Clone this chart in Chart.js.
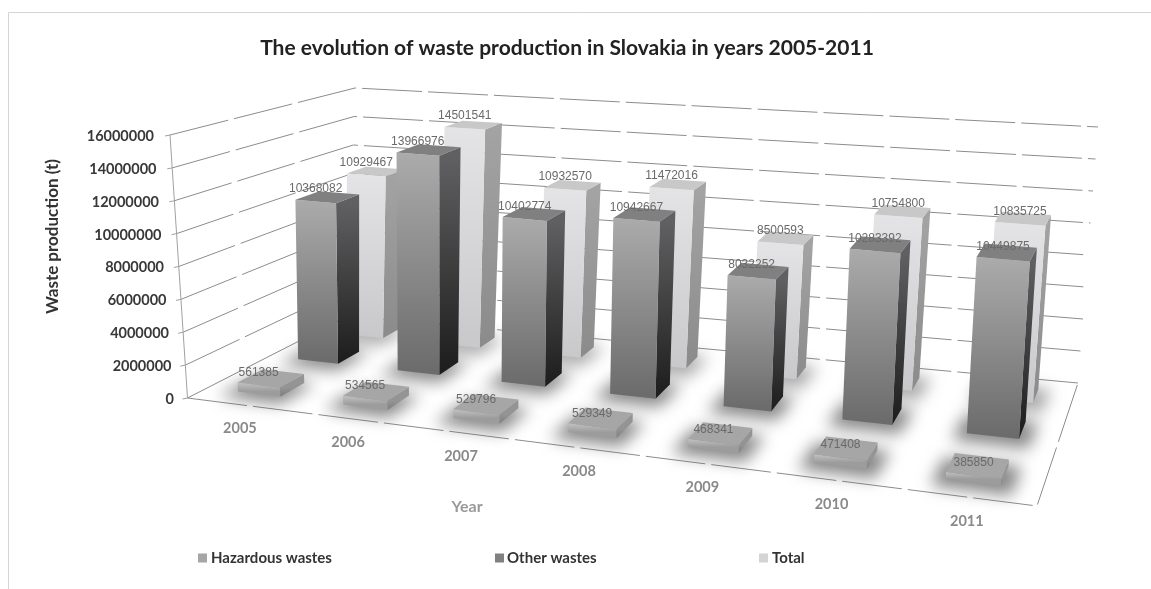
<!DOCTYPE html>
<html><head><meta charset="utf-8">
<style>html,body{margin:0;padding:0;background:#fff}canvas{display:block;filter:blur(0.55px)}</style>
<script src="https://cdn.jsdelivr.net/npm/chart.js@4"></script>
</head><body><canvas id="c" width="1151" height="589"></canvas>
<script>
const years=['2005','2006','2007','2008','2009','2010','2011'];
const hazardous=[561385,534565,529796,529349,468341,471408,385850];
const other=[10368082,13966976,10402774,10942667,8032252,10283392,10449875];
const total=[10929467,14501541,10932570,11472016,8500593,10754800,10835725];
const yTicks=[0,2000000,4000000,6000000,8000000,10000000,12000000,14000000,16000000];

const FONT='Lato';
// 3D box of the plot, as seen in the picture: floor and top planes
const box={fl0:[187.5,398],fr0:[1037,506],bl0:[348,316],br0:[1078,383],
           fl1:[170,135],fr1:[1052,215],bl1:[355,88],br1:[1098,127],k:1.17};
const lerp=(a,b,t)=>[a[0]+(b[0]-a[0])*t,a[1]+(b[1]-a[1])*t];
function P(u,d,h){
  const t=u/(u+box.k*(1-u));
  const b=lerp(lerp(box.fl0,box.fr0,t),lerp(box.bl0,box.br0,t),d);
  const a=lerp(lerp(box.fl1,box.fr1,t),lerp(box.bl1,box.br1,t),d);
  return lerp(b,a,h);
}
const rows=[[.125,.285],[.51,.65],[.81,.92]];
const looks=[
 {front:['#c2c2c2','#9c9c9c'],side:['#949494','#7d7d7d'],top:'#a6a6a6',shadow:.68},
 {front:['#ababab','#6c6c6c'],side:['#606062','#1c1c1c'],top:'#808080',shadow:.68},
 {front:['#e4e4e6','#c9c9cc'],side:['#a3a3a3','#8b8b8b'],top:'#c8c8c8',shadow:.5}
];
const legendX=[[198,211],[495,507],[759,772]];
function poly(ctx,pts,fill){
  ctx.beginPath();pts.forEach((p,i)=>i?ctx.lineTo(p[0],p[1]):ctx.moveTo(p[0],p[1]));ctx.closePath();
  ctx.fillStyle=fill;ctx.fill();
}
function vGrad(ctx,pTop,pBot,c){
  const g=ctx.createLinearGradient(0,pTop[1],0,pBot[1]);g.addColorStop(0,c[0]);g.addColorStop(1,c[1]);return g;
}
const depth3d={
  id:'depth3d',
  beforeDraw(chart){
    const ctx=chart.ctx,y=chart.scales.y;
    ctx.save();ctx.strokeStyle='#d4d4d4';ctx.lineWidth=1;
    ctx.beginPath();ctx.moveTo(8.5,589);ctx.lineTo(8.5,12.5);ctx.lineTo(1151,12.5);ctx.stroke();ctx.restore();
    // y tick labels follow the leaning axis
    y.getLabelItems().forEach((it,i)=>{
      if(it._moved)return;it._moved=true;
      const h=(y.bottom-y.getPixelForValue(y.ticks[i].value))/(y.bottom-y.top);
      it.options.translation[0]+=(154+20*(1-h))-y.right;
    });
  },
  beforeDatasetDraw(){return false;},
  afterDatasetsDraw(chart){
    const ctx=chart.ctx,sx=chart.scales.x,sy=chart.scales.y;
    const U=v=>(v-sx.left)/(sx.right-sx.left), H=v=>(sy.bottom-sy.getPixelForValue(v))/(sy.bottom-sy.top);
    ctx.save();
    // walls and floor
    ctx.lineWidth=1;ctx.strokeStyle='#8c8c8c';ctx.setLineDash([60,6]);
    sy.ticks.forEach(t=>{
      const h=H(t.value);
      const a=P(0,0,h),b=P(0,1,h),c=P(1,1,h);
      ctx.beginPath();ctx.moveTo(a[0],a[1]);ctx.lineTo(b[0],b[1]);ctx.lineTo(c[0],c[1]);ctx.stroke();
    });
    ctx.beginPath();let a=P(0,0,0),b=P(1,0,0),c=P(1,1,0);
    ctx.moveTo(a[0],a[1]);ctx.lineTo(b[0],b[1]);ctx.lineTo(c[0],c[1]);ctx.stroke();
    ctx.setLineDash([]);
    ctx.strokeStyle='#a0a0a0';
    a=P(0,0,0);b=P(0,0,1);ctx.beginPath();ctx.moveTo(a[0],a[1]);ctx.lineTo(b[0],b[1]);
    sy.ticks.forEach(t=>{const p=P(0,0,H(t.value));ctx.moveTo(p[0]-5,p[1]+1);ctx.lineTo(p[0],p[1]);});
    ctx.stroke();
    // bars: rear row first
    const labelsToDraw=[];
    for(let ds=2;ds>=0;ds--){
      const [d0,d1]=rows[ds],look=looks[ds],meta=chart.getDatasetMeta(ds);
      meta.data.forEach((el,i)=>{
        const u0=U(el.x-el.width/2),u1=U(el.x+el.width/2),h=H(chart.data.datasets[ds].data[i]);
        // soft shadow on the floor
        ctx.save();ctx.filter='blur(8px)';ctx.globalAlpha=look.shadow;
        poly(ctx,[P(u0-.012,d0-.07,0),P(u1+.014,d0-.07,0),P(u1+.014,d1+.01,0),P(u0-.012,d1+.01,0)],'#505050');ctx.restore();
        poly(ctx,[P(u1,d0,0),P(u1,d1,0),P(u1,d1,h),P(u1,d0,h)],vGrad(ctx,P(u1,d0,h),P(u1,d0,0),look.side));
        poly(ctx,[P(u0,d0,0),P(u1,d0,0),P(u1,d0,h),P(u0,d0,h)],vGrad(ctx,P(u0,d0,h),P(u0,d0,0),look.front));
        poly(ctx,[P(u0,d0,h),P(u1,d0,h),P(u1,d1,h),P(u0,d1,h)],look.top);
        const lp=P((u0+u1)/2,d0,h);
        labelsToDraw.push([String(chart.data.datasets[ds].data[i]),lp[0],lp[1]-12.5]);
      });
      ctx.font='12px "Liberation Sans"';ctx.fillStyle='#6a6a6a';ctx.textAlign='center';ctx.textBaseline='middle';
      labelsToDraw.splice(0).forEach(l=>ctx.fillText(l[0],l[1],l[2]));
    }
    // category labels along the front edge
    ctx.font='bold 14.5px '+FONT;ctx.fillStyle='#8a8a8a';ctx.textAlign='center';ctx.textBaseline='middle';
    chart.data.labels.forEach((lab,i)=>{const p=P(U(sx.getPixelForValue(i)),0,0);ctx.fillText(lab,p[0],p[1]+24);});
    // axis titles
    ctx.font='bold 16px '+FONT;ctx.fillStyle='#999';ctx.fillText(sx.options.title.text,467,507);
    ctx.save();ctx.translate(53,236.5);ctx.rotate(-Math.PI/2);ctx.font='bold 17px '+FONT;ctx.fillStyle='#333';
    ctx.fillText(sy.options.title.text,0,0);ctx.restore();
    // legend
    ctx.textAlign='left';ctx.font='bold 15px '+FONT;
    chart.data.datasets.forEach((dsv,i)=>{
      ctx.fillStyle=dsv.backgroundColor;ctx.fillRect(legendX[i][0],553.5,9,9);
      ctx.fillStyle='#333';ctx.fillText(dsv.label,legendX[i][1],558);
    });
    ctx.restore();
  }
};
new Chart(document.getElementById('c'),{
  type:'bar',
  data:{labels:years,datasets:[
    {label:'Hazardous wastes',data:hazardous,backgroundColor:'#a6a6a6',grouped:false},
    {label:'Other wastes',data:other,backgroundColor:'#808080',grouped:false},
    {label:'Total',data:total,backgroundColor:'#d4d4d6',grouped:false}
  ]},
  plugins:[depth3d],
  options:{
    responsive:false,animation:false,devicePixelRatio:1,
    categoryPercentage:1,barPercentage:.406,
    layout:{padding:{left:0,right:17,top:0,bottom:0}},
    plugins:{
      legend:{display:false},tooltip:{enabled:false},
      title:{display:true,text:'The evolution of waste production in Slovakia in years 2005-2011',
        color:'#222',font:{family:FONT,size:21,weight:'bold',lineHeight:1.2},padding:{top:35.4,bottom:75.9}}
    },
    scales:{
      x:{title:{display:false,text:'Year'},grid:{display:false},border:{display:false},ticks:{display:false},
         afterFit(s){s.height=190;}},
      y:{min:0,max:16000000,title:{display:false,text:'Waste production (t)'},grid:{display:false,drawTicks:false},border:{display:false},
         afterBuildTicks(s){s.ticks=yTicks.map(v=>({value:v}));},
         afterFit(s){s.width=174;},
         ticks:{padding:0,color:'#383838',font:{family:FONT,size:14.5,weight:'bold'},callback:v=>String(v)}}
    }
  }
});
</script></body></html>
